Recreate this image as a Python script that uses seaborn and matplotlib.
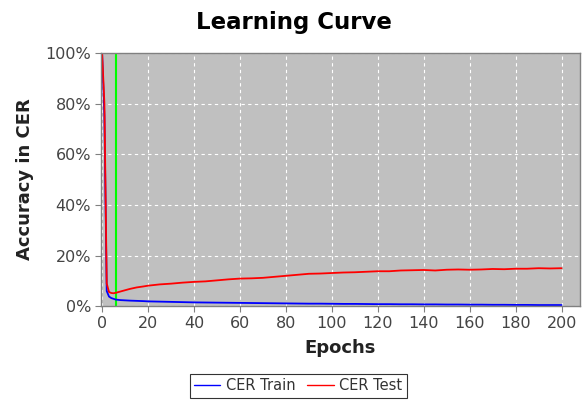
import matplotlib
matplotlib.use("Agg")
import matplotlib.pyplot as plt
import seaborn as sns
import pandas as pd
from matplotlib.ticker import FuncFormatter
from matplotlib.lines import Line2D

epochs = [0, 1, 2, 3, 4, 5, 6, 8, 10, 12, 15, 18, 20, 25, 30, 35, 40, 45, 50, 55, 60,
          65, 70, 75, 80, 85, 90, 95, 100, 105, 110, 115, 120, 125, 130, 135, 140,
          145, 150, 155, 160, 165, 170, 175, 180, 185, 190, 195, 200]
cer_train = [100, 75, 6, 3.8, 3.2, 2.9, 2.6, 2.4, 2.3, 2.2, 2.1, 2.0, 1.9, 1.8, 1.7, 1.6, 1.5,
             1.45, 1.4, 1.35, 1.3, 1.25, 1.2, 1.15, 1.1, 1.05, 1.0, 1.0, 0.95, 0.9, 0.9,
             0.85, 0.8, 0.8, 0.75, 0.75, 0.7, 0.7, 0.65, 0.65, 0.6, 0.6, 0.55, 0.55, 0.5,
             0.5, 0.45, 0.45, 0.45]
cer_test = [100, 80, 9, 5.6, 5.2, 5.1, 5.3, 5.8, 6.3, 6.8, 7.4, 7.8, 8.1, 8.6, 8.9, 9.3, 9.6,
            9.8, 10.2, 10.6, 10.9, 11.0, 11.2, 11.6, 12.0, 12.4, 12.8, 12.9, 13.1, 13.3,
            13.4, 13.6, 13.8, 13.8, 14.1, 14.2, 14.3, 14.1, 14.4, 14.5, 14.4, 14.5, 14.7,
            14.6, 14.8, 14.8, 15.0, 14.9, 15.0]
best_epoch = 6

df = pd.DataFrame({"Epochs": epochs * 2,
                   "CER": cer_train + cer_test,
                   "Series": ["CER Train"] * len(epochs) + ["CER Test"] * len(epochs)})

sns.set_style("white")
plt.rcParams['font.family'] = ['DejaVu Sans']

fig = plt.figure(figsize=(5.87, 4.05), dpi=100)
ax = fig.add_axes([0.172, 0.244, 0.816, 0.625])
ax.set_facecolor("#c0c0c0")

sns.lineplot(data=df, x="Epochs", y="CER", hue="Series",
             palette={"CER Train": "#0000ff", "CER Test": "#ff0000"},
             linewidth=1.3, ax=ax, legend=False)
ax.axvline(best_epoch, color="#00ff00", linewidth=1.5, zorder=1)

ax.set_xlim(-0.5, 208)
ax.set_ylim(0, 100)
ax.set_xticks(range(0, 201, 20))
ax.set_yticks(range(0, 101, 20))
ax.yaxis.set_major_formatter(FuncFormatter(lambda v, p: f"{int(v)}%"))
ax.grid(True, color="white", linestyle=(0, (3, 3)), linewidth=0.8)
ax.set_axisbelow(True)
for s in ax.spines.values():
    s.set_color("#808080")
    s.set_linewidth(1.0)
ax.tick_params(axis="both", which="major", length=4, color="#808080",
               labelsize=11.5, labelcolor="#444444", direction="out",
               bottom=True, left=True, pad=3)
ax.set_xlabel("Epochs", fontsize=13, fontweight="bold", labelpad=6, color="#222222")
ax.set_ylabel("Accuracy in CER", fontsize=13, fontweight="bold", labelpad=8, color="#222222")
fig.suptitle("Learning Curve", fontsize=16.5, fontweight="bold", y=0.972, color="black")

handles = [Line2D([], [], color="#0000ff", lw=1.0), Line2D([], [], color="#ff0000", lw=1.0)]
leg = fig.legend(handles, ["CER Train", "CER Test"], loc="lower center",
                 bbox_to_anchor=(0.508, 0.0), ncol=2, fontsize=10.5, frameon=True,
                 fancybox=False, handlelength=1.8, columnspacing=0.8, handletextpad=0.4,
                 borderpad=0.3)
leg.get_frame().set_edgecolor("black")
leg.get_frame().set_linewidth(0.8)
for t in leg.get_texts():
    t.set_color("#333333")

fig.savefig("out.png", dpi=100)
